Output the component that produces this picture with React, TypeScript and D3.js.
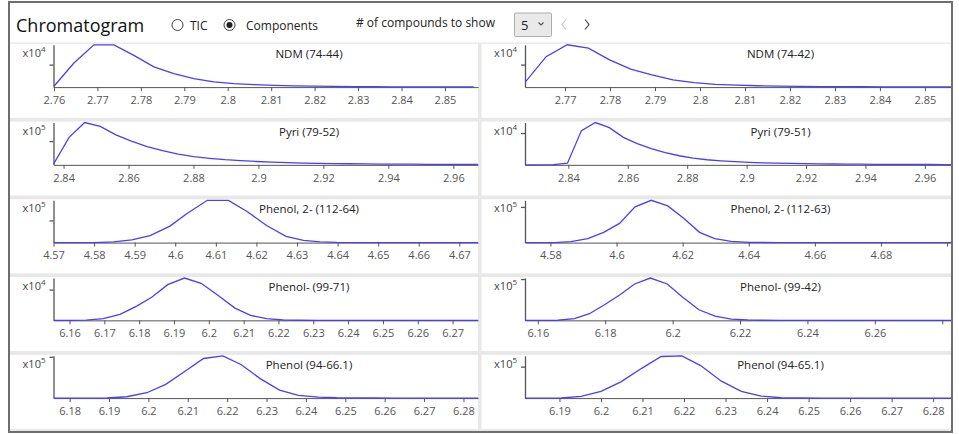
import { useEffect, useRef } from 'react'
import * as d3 from 'd3'

// retention time (min) and counts for each extracted ion trace
const ndm7444Time = [2.7600, 2.7646, 2.7692, 2.7738, 2.7784, 2.7830, 2.7876, 2.7922, 2.7968, 2.8014, 2.8060, 2.8106, 2.8152, 2.8198, 2.8244, 2.8290, 2.8336, 2.8382, 2.8428, 2.8474, 2.8520, 2.8566]
const ndm7444Counts = [380, 10700, 18800, 18750, 14100, 9020, 6020, 3760, 2350, 1500, 1090, 810, 560, 410, 300, 230, 170, 130, 95, 75, 56, 56]

const ndm7442Time = [2.7611, 2.7658, 2.7705, 2.7752, 2.7799, 2.7846, 2.7893, 2.7940, 2.7987, 2.8034, 2.8081, 2.8128, 2.8175, 2.8222, 2.8269, 2.8316, 2.8363, 2.8410, 2.8457, 2.8504, 2.8551, 2.8598]
const ndm7442Counts = [2070, 13540, 18800, 17300, 12130, 7990, 5450, 3200, 1970, 1240, 850, 600, 430, 320, 240, 190, 150, 110, 90, 75, 60, 56]

const pyri7952Time = [2.8369, 2.8417, 2.8465, 2.8513, 2.8561, 2.8609, 2.8657, 2.8705, 2.8753, 2.8801, 2.8849, 2.8897, 2.8945, 2.8993, 2.9041, 2.9089, 2.9137, 2.9185, 2.9233, 2.9281, 2.9329, 2.9377, 2.9425, 2.9473, 2.9521, 2.9569, 2.9617, 2.9665, 2.9713]
const pyri7952Counts = [2700, 115700, 178000, 162000, 126400, 99700, 76500, 59600, 45400, 34700, 27600, 21700, 17800, 14200, 11600, 9300, 7500, 6200, 5300, 4600, 3900, 3400, 3000, 2700, 2300, 2100, 2000, 1800, 1800]

const pyri7951Time = [2.8254, 2.8302, 2.8350, 2.8397, 2.8444, 2.8491, 2.8538, 2.8585, 2.8632, 2.8679, 2.8726, 2.8773, 2.8820, 2.8867, 2.8914, 2.8961, 2.9008, 2.9055, 2.9102, 2.9149, 2.9196, 2.9243, 2.9290, 2.9337, 2.9384, 2.9431, 2.9478, 2.9525, 2.9572, 2.9619, 2.9666, 2.9713]
const pyri7951Counts = [0, 0, 70, 530, 10770, 13300, 11700, 8650, 6650, 5120, 3860, 2860, 2130, 1600, 1260, 1000, 800, 640, 530, 440, 370, 320, 270, 230, 200, 170, 150, 130, 120, 110, 90, 90]

const phenol2_11264Time = [4.5700, 4.5752, 4.5799, 4.5848, 4.5893, 4.5938, 4.5987, 4.6029, 4.6079, 4.6131, 4.6176, 4.6226, 4.6273, 4.6316, 4.6357, 4.6398, 4.6445, 4.6492, 4.6539, 4.6774]
const phenol2_11264Counts = [0, 0, 300, 3000, 11900, 31300, 74500, 131300, 191000, 190500, 141700, 76000, 28300, 10500, 3000, 800, 300, 100, 0, 0]

const phenol2_11263Time = [4.5723, 4.5765, 4.5812, 4.5862, 4.5913, 4.5961, 4.6009, 4.6056, 4.6105, 4.6155, 4.6204, 4.6251, 4.6297, 4.6347, 4.6398, 4.6445, 4.6492, 4.6540, 4.7012]
const phenol2_11263Counts = [0, 0, 200, 2700, 11100, 28700, 53700, 100000, 118500, 102700, 67500, 28700, 11100, 3700, 900, 300, 100, 0, 0]

const phenol9971Time = [6.1554, 6.1600, 6.1648, 6.1697, 6.1745, 6.1793, 6.1836, 6.1882, 6.1930, 6.1978, 6.2027, 6.2075, 6.2120, 6.2166, 6.2214, 6.2262, 6.2310, 6.2773]
const phenol9971Counts = [0, 0, 60, 540, 1930, 4620, 7520, 11600, 13750, 12030, 8060, 3970, 1610, 540, 110, 30, 0, 0]

const phenol9942Time = [6.1562, 6.1610, 6.1659, 6.1709, 6.1753, 6.1798, 6.1845, 6.1887, 6.1934, 6.1984, 6.2030, 6.2078, 6.2126, 6.2174, 6.2223, 6.2270, 6.2318, 6.2826]
const phenol9942Counts = [0, 0, 300, 4000, 16000, 37600, 62500, 88100, 102400, 88100, 56000, 25600, 10200, 3200, 800, 200, 0, 0]

const phenol94661Time = [6.1759, 6.1800, 6.1848, 6.1895, 6.1945, 6.1996, 6.2044, 6.2093, 6.2140, 6.2189, 6.2235, 6.2284, 6.2333, 6.2381, 6.2432, 6.2478, 6.2526, 6.2574, 6.2622, 6.2670, 6.2718, 6.2862]
const phenol94661Counts = [0, 0, 100, 300, 3300, 13000, 33300, 65000, 95900, 102400, 81300, 47100, 19500, 6500, 2500, 800, 400, 200, 100, 100, 0, 0]

const phenol94651Time = [6.1817, 6.1858, 6.1904, 6.1952, 6.2000, 6.2048, 6.2098, 6.2145, 6.2195, 6.2240, 6.2290, 6.2338, 6.2386, 6.2434, 6.2482, 6.2530, 6.2578, 6.2866]
const phenol94651Counts = [0, 0, 300, 5400, 21500, 51600, 94600, 132200, 134400, 103300, 53800, 21500, 6500, 1100, 400, 100, 0, 0]

const panelTitles = [
  'NDM (74-44)', 'NDM (74-42)',
  'Pyri (79-52)', 'Pyri (79-51)',
  'Phenol, 2- (112-64)', 'Phenol, 2- (112-63)',
  'Phenol- (99-71)', 'Phenol- (99-42)',
  'Phenol (94-66.1)', 'Phenol (94-65.1)'
]
const panelTimes = [ndm7444Time, ndm7442Time, pyri7952Time, pyri7951Time, phenol2_11264Time, phenol2_11263Time, phenol9971Time, phenol9942Time, phenol94661Time, phenol94651Time]
const panelCounts = [ndm7444Counts, ndm7442Counts, pyri7952Counts, pyri7951Counts, phenol2_11264Counts, phenol2_11263Counts, phenol9971Counts, phenol9942Counts, phenol94661Counts, phenol94651Counts]
const timeRanges = [
  [2.7599, 2.8576], [2.7611, 2.8558],
  [2.8369, 2.9676], [2.8254, 2.9688],
  [4.5700, 4.6746], [4.5723, 4.7012],
  [6.1554, 6.2773], [6.1562, 6.2826],
  [6.1759, 6.2837], [6.1817, 6.2843]
]
const tickSteps = [0.01, 0.01, 0.02, 0.02, 0.01, 0.02, 0.01, 0.02, 0.01, 0.01]
const exponents = [4, 4, 5, 4, 5, 5, 4, 5, 5, 5]

const FONT = "'Segoe UI', 'Open Sans', sans-serif"
const LINE = '#4b3ff2'
const AXIS = '#555'

const App = () => {
  const svgRef = useRef<SVGSVGElement>(null)

  useEffect(() => {
    const svg = d3.select(svgRef.current)
    svg.selectAll('*').remove()

    // panel grid background and outer frame
    svg.append('rect').attr('x', 10).attr('y', 42.5).attr('width', 941).attr('height', 389).attr('fill', '#e8e8e8')

    // header
    const header = svg.append('g').style('font-family', FONT)
    header.append('text').attr('x', 16).attr('y', 32).attr('font-size', 18).attr('fill', '#111').text('Chromatogram')
    header.append('circle').attr('cx', 177.5).attr('cy', 25).attr('r', 5.5).attr('fill', '#fff').attr('stroke', '#444')
    header.append('text').attr('x', 190).attr('y', 29.5).attr('font-size', 12).attr('fill', '#222').text('TIC')
    header.append('circle').attr('cx', 229.5).attr('cy', 25).attr('r', 5.5).attr('fill', '#fff').attr('stroke', '#444')
    header.append('circle').attr('cx', 229.5).attr('cy', 25).attr('r', 3).attr('fill', '#222')
    header.append('text').attr('x', 246).attr('y', 29.5).attr('font-size', 12).attr('fill', '#222').text('Components')
    header.append('text').attr('x', 356).attr('y', 26.5).attr('font-size', 12).attr('fill', '#222').text('# of compounds to show')
    header.append('rect').attr('x', 514.5).attr('y', 13).attr('width', 37).attr('height', 23.5).attr('rx', 1)
      .attr('fill', '#e9e9e9').attr('stroke', '#adadad')
    header.append('text').attr('x', 521).attr('y', 30).attr('font-size', 13).attr('fill', '#222').text('5')
    header.append('path').attr('d', 'M538.5,22.5 L541,25 L543.5,22.5').attr('fill', 'none').attr('stroke', '#555').attr('stroke-width', 1.2)
    header.append('path').attr('d', 'M566,19.5 L562,24.5 L566,29.5').attr('fill', 'none').attr('stroke', '#c8c8c8').attr('stroke-width', 1.2)
    header.append('path').attr('d', 'M585,19.5 L589,24.5 L585,29.5').attr('fill', 'none').attr('stroke', '#444').attr('stroke-width', 1.2)

    panelTitles.forEach((title, i) => {
      const col = i % 2
      const row = Math.floor(i / 2)
      const px = col ? 481.5 : 10
      const pw = col ? 469.5 : 468
      const plotLeft = px + 43.5
      const plotRight = px + pw
      const plotTop = 44.8 + 77.75 * row
      const plotBottom = plotTop + 42.3

      svg.append('rect').attr('x', px).attr('y', plotTop - 1).attr('width', pw).attr('height', 74)
        .attr('fill', '#fff')

      const [t0, t1] = timeRanges[i]
      const x = d3.scaleLinear().domain([t0, t1]).range([plotLeft, plotRight])
      const counts = panelCounts[i]
      const y = d3.scaleLinear().domain([0, d3.max(counts) as number]).range([plotBottom, plotTop])

      const step = tickSteps[i]
      const ticks = d3.range(Math.ceil(t0 / step - 1e-6), Math.floor(t1 / step + 1e-6) + 1)
        .map(k => +(k * step).toFixed(4))

      const xAxis = svg.append('g')
        .attr('transform', `translate(0,${plotBottom})`)
        .call(d3.axisBottom(x).tickValues(ticks).tickSize(4).tickPadding(5).tickSizeOuter(0)
          .tickFormat(d => String(+(+d).toFixed(2))))
      xAxis.selectAll('path, line').attr('stroke', AXIS)
      xAxis.selectAll('text')
        .attr('fill', AXIS)
        .style('font-family', FONT)
        .style('font-size', '11px')
        .style('display', (d: any) => (x(d) + 11 > plotRight - 2 ? 'none' : null))

      const yAxis = svg.append('g')
        .attr('transform', `translate(${plotLeft},0)`)
        .call(d3.axisLeft(y).tickValues([Math.pow(10, exponents[i])]).tickSize(4).tickSizeOuter(0).tickFormat(() => ''))
      yAxis.selectAll('path, line').attr('stroke', AXIS).attr('stroke-width', 1.3)

      const expLabel = svg.append('text')
        .attr('x', plotLeft - 8)
        .attr('y', plotTop + 12)
        .attr('text-anchor', 'end')
        .style('font-family', FONT)
        .style('font-size', '11px')
        .attr('fill', '#444')
      expLabel.append('tspan').text('x10')
      expLabel.append('tspan').attr('dy', -5).style('font-size', '8px').text(String(exponents[i]))

      svg.append('text')
        .attr('x', px + 299)
        .attr('y', plotTop + 13)
        .attr('text-anchor', 'middle')
        .style('font-family', FONT)
        .style('font-size', '11.5px')
        .attr('fill', '#222')
        .text(title)

      const clipId = `clip-${i}`
      svg.append('clipPath').attr('id', clipId)
        .append('rect').attr('x', plotLeft).attr('y', plotTop - 1).attr('width', plotRight - plotLeft).attr('height', plotBottom - plotTop + 2)

      const times = panelTimes[i]
      const line = d3.line<number>()
        .x((_, j) => x(times[j]))
        .y(d => y(d))

      svg.append('path')
        .datum(counts)
        .attr('clip-path', `url(#${clipId})`)
        .attr('fill', 'none')
        .attr('stroke', LINE)
        .attr('stroke-width', 1.3)
        .attr('d', line)
    })

    svg.append('rect').attr('x', 9).attr('y', 2).attr('width', 943).attr('height', 430)
      .attr('fill', 'none').attr('stroke', '#6e6e6e').attr('stroke-width', 2)
  }, [])

  return (
    <svg ref={svgRef} width={959} height={434}
      style={{ position: 'absolute', left: 0, top: 0, background: '#fff' }} />
  )
}

export default App
